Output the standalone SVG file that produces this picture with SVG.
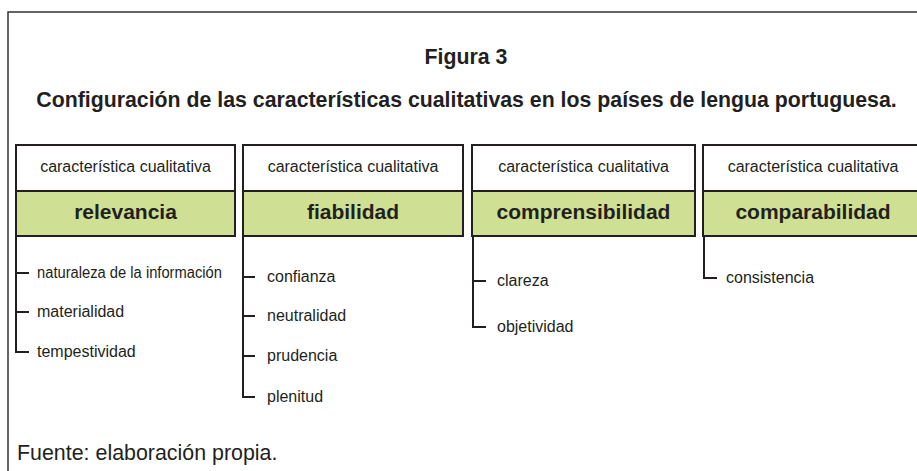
<svg xmlns="http://www.w3.org/2000/svg" width="917" height="471" viewBox="0 0 917 471">
<style>
.frame{fill:none;stroke:#333;stroke-width:1.5}
.hd{fill:#fff;stroke:#231f20;stroke-width:2}
.gr{fill:#cfe094;stroke:#231f20;stroke-width:2}
.ln{fill:none;stroke:#231f20;stroke-width:2}
text{font-family:"Liberation Sans",Arial,sans-serif;fill:#231f20}
.t{font-size:21.3px;font-weight:bold}
.s{font-size:16px}
.n{font-size:21px;font-weight:bold}
.f{font-size:21.4px}
</style>
<rect x="0" y="0" width="917" height="471" fill="#fff"/>
<path class="frame" d="M8 475 V12 H925"/>
<text class="t" x="466" y="64" text-anchor="middle">Figura 3</text>
<text class="t" x="466.5" y="107" text-anchor="middle">Configuración de las características cualitativas en los países de lengua portuguesa.</text>
<g id="relevancia">
<rect class="hd" x="16" y="145" width="219" height="46"/>
<rect class="gr" x="16" y="191" width="219" height="45"/>
<text class="s" x="125.5" y="172" text-anchor="middle">característica cualitativa</text>
<text class="n" x="125.5" y="219" text-anchor="middle">relevancia</text>
</g>
<g id="fiabilidad">
<rect class="hd" x="243" y="145" width="220" height="46"/>
<rect class="gr" x="243" y="191" width="220" height="45"/>
<text class="s" x="353" y="172" text-anchor="middle">característica cualitativa</text>
<text class="n" x="353" y="219" text-anchor="middle">fiabilidad</text>
</g>
<g id="comprensibilidad">
<rect class="hd" x="472" y="145" width="223" height="46"/>
<rect class="gr" x="472" y="191" width="223" height="45"/>
<text class="s" x="583.5" y="172" text-anchor="middle">característica cualitativa</text>
<text class="n" x="583.5" y="219" text-anchor="middle">comprensibilidad</text>
</g>
<g id="comparabilidad">
<rect class="hd" x="703" y="145" width="220" height="46"/>
<rect class="gr" x="703" y="191" width="220" height="45"/>
<text class="s" x="813" y="172" text-anchor="middle">característica cualitativa</text>
<text class="n" x="813" y="219" text-anchor="middle">comparabilidad</text>
</g>
<g id="connectors">
<path class="ln" d="M16 236 V352 H29 M16 273 H29 M16 312 H29"/>
<path class="ln" d="M243 236 V397 H255 M243 277 H255 M243 316 H255 M243 356 H255"/>
<path class="ln" d="M473 236 V327 H486 M473 281 H486"/>
<path class="ln" d="M704 236 V278 H717"/>
</g>
<g id="items">
<text class="s" x="37" y="278" textLength="185" lengthAdjust="spacingAndGlyphs">naturaleza de la información</text>
<text class="s" x="37" y="317">materialidad</text>
<text class="s" x="37" y="357">tempestividad</text>
<text class="s" x="267" y="282">confianza</text>
<text class="s" x="267" y="321">neutralidad</text>
<text class="s" x="267" y="361">prudencia</text>
<text class="s" x="267" y="402">plenitud</text>
<text class="s" x="497" y="286">clareza</text>
<text class="s" x="497" y="332">objetividad</text>
<text class="s" x="726" y="283">consistencia</text>
</g>
<text class="f" x="17" y="460">Fuente: elaboración propia.</text>
</svg>
